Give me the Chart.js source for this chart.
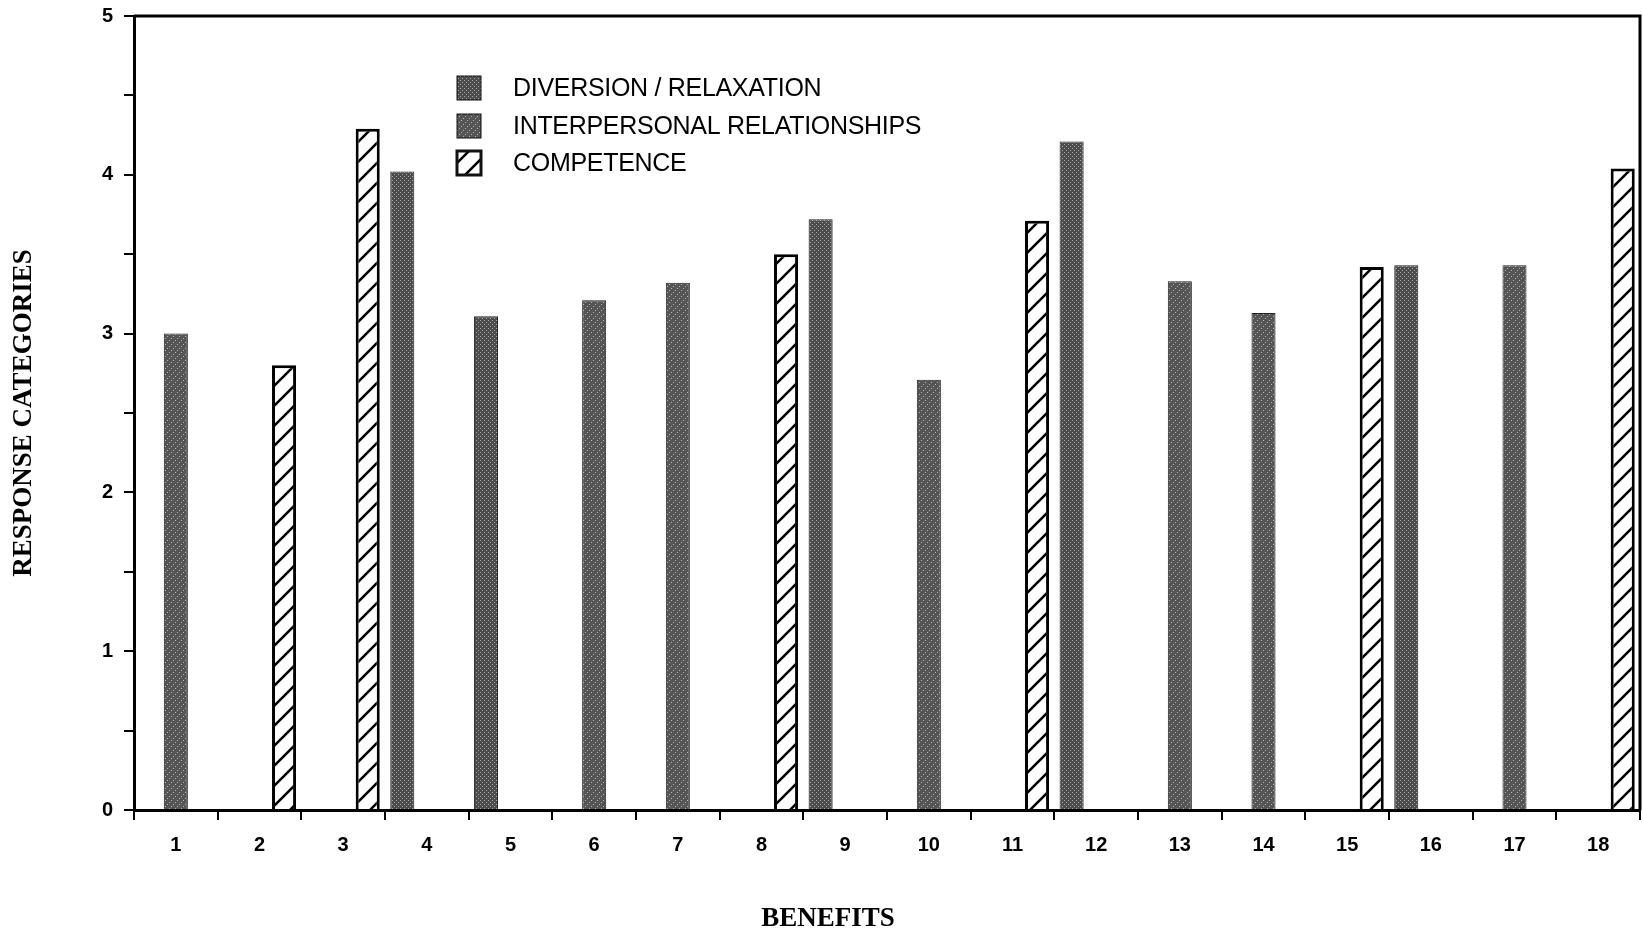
<!DOCTYPE html>
<html>
<head>
<meta charset="utf-8">
<script src="https://cdn.jsdelivr.net/npm/chart.js@4"></script>
<style>
  html, body { margin: 0; padding: 0; background: #fff; }
  #wrap { width: 1643px; height: 936px; }
</style>
</head>
<body>
<div id="wrap"><canvas id="benefitsChart" width="1643" height="936"></canvas></div>
<script>
// mean response per benefit, one series per benefit domain
const benefits = ["1", "2", "3", "4", "5", "6", "7", "8", "9", "10", "11", "12", "13", "14", "15", "16", "17", "18"];
const diversion = [null, null, null, 4.02, 3.11, null, null, null, 3.72, null, null, 4.21, null, null, null, 3.43, null, null];
const interpersonal = [3.0, null, null, null, null, 3.21, 3.32, null, null, 2.71, null, null, 3.33, 3.13, null, null, 3.43, null];
const competence = [null, 2.8, 4.29, null, null, null, null, 3.5, null, null, 3.71, null, null, null, 3.42, null, null, 4.04];
const seriesNames = ["DIVERSION / RELAXATION", "INTERPERSONAL RELATIONSHIPS", "COMPETENCE"];

function makePattern(size, paint) {
  const c = document.createElement("canvas");
  c.width = size;
  c.height = size;
  paint(c.getContext("2d"));
  return c.getContext("2d").createPattern(c, "repeat");
}

// dark stipple: grid of light dots
const stipple = makePattern(4, (g) => {
  g.fillStyle = "#4c4c4c";
  g.fillRect(0, 0, 4, 4);
  g.fillStyle = "#a8a8a8";
  g.fillRect(0, 0, 1, 1);
  g.fillRect(2, 2, 1, 1);
});

// dark fill with light dots running diagonally
const dotHatch = makePattern(6, (g) => {
  g.fillStyle = "#555";
  g.fillRect(0, 0, 6, 6);
  g.fillStyle = "#b4b4b4";
  g.fillRect(1, 4, 1, 1);
  g.fillRect(3, 2, 1, 1);
  g.fillRect(5, 0, 1, 1);
});

// white with black "/" lines
const lineHatch = makePattern(20, (g) => {
  g.fillStyle = "#fff";
  g.fillRect(0, 0, 20, 20);
  g.strokeStyle = "#000";
  g.lineWidth = 2.6;
  g.beginPath();
  g.moveTo(-2, 22); g.lineTo(22, -2);
  g.moveTo(-4, 4); g.lineTo(4, -4);
  g.moveTo(16, 24); g.lineTo(24, 16);
  g.stroke();
});

const serif = "'Liberation Serif', 'DejaVu Serif', serif";
const sans = "'Liberation Sans', Arial, sans-serif";

// frame on top/right, the custom legend and the x title
const decorations = {
  id: "decorations",
  afterDraw(chart) {
    const { ctx, chartArea: a } = chart;
    ctx.save();
    ctx.strokeStyle = "#000";
    ctx.lineWidth = 3;
    ctx.beginPath();
    ctx.moveTo(a.left, a.top);
    ctx.lineTo(a.right, a.top);
    ctx.lineTo(a.right, a.bottom);
    ctx.stroke();

    const rows = [88, 126, 163];
    chart.data.datasets.forEach((ds, i) => {
      const y = rows[i];
      ctx.fillStyle = ds.backgroundColor;
      ctx.fillRect(457, y - 12, 24, 24);
      ctx.lineWidth = i === 2 ? 3 : 1;
      ctx.strokeStyle = "#111";
      ctx.strokeRect(457, y - 12, 24, 24);
      ctx.fillStyle = "#000";
      ctx.font = "25px " + sans;
      ctx.textBaseline = "middle";
      ctx.textAlign = "left";
      ctx.letterSpacing = "-0.3px";
      ctx.fillText(seriesNames[i], 513, y + 1);
    });

    ctx.letterSpacing = "0px";
    ctx.font = "bold 27px " + serif;
    ctx.textAlign = "center";
    ctx.textBaseline = "middle";
    ctx.fillText("BENEFITS", 828, 919);
    ctx.restore();
  },
};

const ctx = document.getElementById("benefitsChart").getContext("2d");
new Chart(ctx, {
  type: "bar",
  data: {
    labels: benefits,
    datasets: [
      { label: seriesNames[0], data: diversion, backgroundColor: stipple, borderColor: "#222", borderWidth: 1 },
      { label: seriesNames[1], data: interpersonal, backgroundColor: dotHatch, borderColor: "#222", borderWidth: 1 },
      { label: seriesNames[2], data: competence, backgroundColor: lineHatch, borderColor: "#000", borderWidth: 3 },
    ],
  },
  options: {
    responsive: false,
    animation: false,
    categoryPercentage: 0.88,
    barPercentage: 0.98,
    layout: { padding: { top: 16, right: 3, left: 0, bottom: 0 } },
    plugins: {
      legend: { display: false },
      tooltip: { enabled: false },
    },
    scales: {
      x: {
        afterFit(scale) {
          scale.height = 126;
          scale.paddingLeft = 0;
          scale.paddingRight = 0;
        },
        grid: { display: true, offset: true, drawOnChartArea: false, drawTicks: true, tickLength: 10, color: "#000", lineWidth: 2 },
        border: { display: true, color: "#000", width: 3 },
        ticks: { color: "#000", padding: 13, font: { family: sans, size: 20, weight: "bold" }, maxRotation: 0 },
      },
      y: {
        min: 0,
        max: 5,
        afterFit(scale) {
          scale.width = 134;
          scale.paddingTop = 0;
          scale.paddingBottom = 0;
        },
        grid: { display: true, drawOnChartArea: false, drawTicks: true, tickLength: 10, color: "#000", lineWidth: 2 },
        border: { display: true, color: "#000", width: 3 },
        ticks: {
          stepSize: 0.5,
          color: "#000",
          padding: 11,
          font: { family: sans, size: 20, weight: "bold" },
          callback: (v) => (Number.isInteger(v) ? String(v) : ""),
        },
        title: {
          display: true,
          text: "RESPONSE CATEGORIES",
          color: "#000",
          font: { family: serif, size: 27, weight: "bold" },
          padding: { top: 8, bottom: 0 },
        },
      },
    },
  },
  plugins: [decorations],
});
</script>
</body>
</html>
